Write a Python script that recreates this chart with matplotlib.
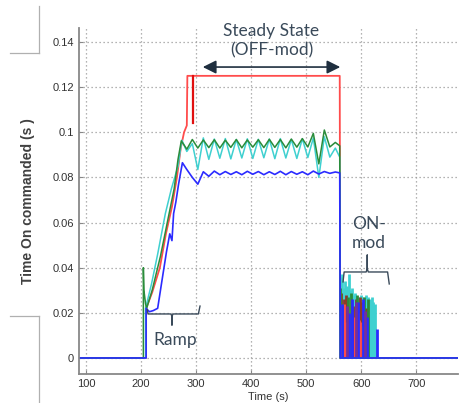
import numpy as np
import matplotlib
matplotlib.use("Agg")
import matplotlib.pyplot as plt
from matplotlib.lines import Line2D

plt.rcParams['font.family'] = ['Liberation Sans', 'DejaVu Sans']

# ---- data (time in s, value in s) ----
t_ss = np.arange(283, 560, 10)   # steady state sample times

red_t = [0, 209, 209, 220, 234, 245, 256, 265, 272, 278, 283, 284, 561, 562, 800]
red_v = [0, 0, 0.022, 0.029, 0.040, 0.055, 0.067, 0.080, 0.093, 0.100, 0.103, 0.125, 0.125, 0, 0]

red2_t = [294, 294]
red2_v = [0.104, 0.125]

green_ramp_t = [0, 204, 204, 205, 208, 210, 220, 235, 250, 260, 267, 273]
green_ramp_v = [0, 0, 0.040, 0.030, 0.024, 0.022, 0.030, 0.045, 0.063, 0.075, 0.088, 0.0962]
green_ss = [0.0925, 0.0968, 0.0930, 0.0966, 0.0932, 0.0967, 0.0930, 0.0965, 0.0933, 0.0968,
            0.0931, 0.0966, 0.0934, 0.0967, 0.0932, 0.0969, 0.0933, 0.0968, 0.0931, 0.0970,
            0.0934, 0.0972, 0.0935, 0.0995, 0.0860, 0.1010, 0.0935, 0.0955]
green_end_t = [561, 562, 800]
green_end_v = [0.094, 0, 0]

cyan_ramp_t = [0, 208, 208, 219, 230, 244, 255, 267, 274]
cyan_ramp_v = [0, 0, 0.022, 0.033, 0.046, 0.064, 0.075, 0.085, 0.0965]
cyan_ss = [0.0915, 0.0950, 0.0835, 0.0975, 0.0880, 0.0970, 0.0885, 0.0972, 0.0882, 0.0968,
           0.0886, 0.0971, 0.0884, 0.0969, 0.0887, 0.0970, 0.0883, 0.0972, 0.0886, 0.0968,
           0.0884, 0.0971, 0.0888, 0.0975, 0.0800, 0.0980, 0.0890, 0.0930]
cyan_end_t = [561, 562, 800]
cyan_end_v = [0.089, 0, 0]

blue_ramp_t = [0, 209, 209, 215, 222, 230, 237, 246, 252, 256, 259, 263, 268, 275]
blue_ramp_v = [0, 0, 0.022, 0.0205, 0.021, 0.022, 0.033, 0.047, 0.055, 0.052, 0.064, 0.069, 0.077, 0.0865]
blue_ss = [0.0835, 0.0800, 0.0770, 0.0825, 0.0805, 0.0828, 0.0812, 0.0826, 0.0813, 0.0825,
           0.0812, 0.0827, 0.0814, 0.0826, 0.0812, 0.0825, 0.0813, 0.0827, 0.0812, 0.0826,
           0.0814, 0.0825, 0.0812, 0.0828, 0.0815, 0.0826, 0.0818, 0.0824]
blue_end_t = [561, 562, 800]
blue_end_v = [0.082, 0, 0]

# ON-mod pulses
on_pulses = {
    'cyan':   ([562, 564, 566, 568, 570, 572, 574, 576, 578, 580, 583, 586, 589, 596, 599,
                602, 604, 606, 608, 610, 612, 614, 616, 618, 620, 622, 624, 626],
               [0.036, 0.033, 0.037, 0.031, 0.034, 0.030, 0.032, 0.029, 0.037, 0.030, 0.031,
                0.028, 0.029, 0.027, 0.028, 0.026, 0.027, 0.025, 0.028, 0.026, 0.027, 0.025,
                0.026, 0.024, 0.027, 0.025, 0.023, 0.024]),
    'pink':   ([563, 567, 571, 579, 582, 587, 591, 595, 600],
               [0.025, 0.022, 0.024, 0.026, 0.024, 0.021, 0.023, 0.019, 0.021]),
    'brown':  ([564, 568, 572, 575, 585, 590, 597, 601, 609],
               [0.029, 0.026, 0.028, 0.024, 0.023, 0.026, 0.027, 0.025, 0.022]),
    'red':    ([566, 569, 573, 588, 592, 594, 596, 598, 603, 606],
               [0.020, 0.024, 0.016, 0.018, 0.016, 0.020, 0.017, 0.016, 0.014, 0.015]),
    'green':  ([562, 565, 576, 581, 593, 605, 613],
               [0.031, 0.024, 0.027, 0.029, 0.028, 0.027, 0.026]),
    'blue':   ([565, 577, 584, 594, 604, 611, 628],
               [0.024, 0.020, 0.026, 0.025, 0.026, 0.018, 0.013]),
    'purple': ([574, 590, 607],
               [0.023, 0.025, 0.021]),
}

x_ticks = [100, 200, 300, 400, 500, 600, 700]
y_ticks = [0, 0.02, 0.04, 0.06, 0.08, 0.1, 0.12, 0.14]
y_ticklabels = ['0', '0.02', '0.04', '0.06', '0.08', '0.1', '0.12', '0.14']

colors = {'red': '#ff4c4c', 'red2': '#e01010', 'green': '#2a8c3a', 'cyan': '#3fd0d0',
          'blue': '#2b2bff', 'pink': '#ff9090', 'brown': '#8b3a2a', 'purple': '#7030a0'}

fig = plt.figure(figsize=(4.59, 4.03), dpi=100)
ax = fig.add_axes([79/459, 1-374/403, (458-79)/459, (374-28)/403])

# ON-mod pulses first (behind)
for name in ['cyan', 'pink', 'brown', 'red', 'green', 'blue', 'purple']:
    pt, pv = on_pulses[name]
    ax.vlines(pt, 0, pv, color=colors[name], lw=2.0)

ax.plot(red_t, red_v, color=colors['red'], lw=1.3)
ax.plot(red2_t, red2_v, color=colors['red2'], lw=1.6)
ax.plot(cyan_ramp_t + list(t_ss) + cyan_end_t, cyan_ramp_v + cyan_ss + cyan_end_v,
        color=colors['cyan'], lw=1.1)
ax.plot(green_ramp_t + list(t_ss) + green_end_t, green_ramp_v + green_ss + green_end_v,
        color=colors['green'], lw=1.1)
ax.plot(blue_ramp_t + list(t_ss) + blue_end_t, blue_ramp_v + blue_ss + blue_end_v,
        color=colors['blue'], lw=1.2)

ax.set_xlim(87, 776)
ax.set_ylim(-0.0071, 0.1462)
ax.set_xticks(x_ticks)
ax.set_yticks(y_ticks)
ax.set_yticklabels(y_ticklabels)
ax.grid(True, linestyle=(0, (1, 2.2)), color='#9a9a9a', lw=0.9)
ax.tick_params(direction='in', length=3, color='#888888', labelcolor='#333333', labelsize=8)
for s in ['top', 'right']:
    ax.spines[s].set_visible(False)
for s in ['left', 'bottom']:
    ax.spines[s].set_color('#888888')
    ax.spines[s].set_linewidth(1.3)

fig.text(28/459, 1-201/403, 'Time On commanded (s )', rotation=90, ha='center', va='center',
         fontsize=10, fontweight='bold', color='#404040')
fig.text(268/459, 1-397/403, 'Time (s)', ha='center', va='center', fontsize=8, color='#333333')

# annotations
note = '#1f2f3f'
afont = dict(family=['Lato', 'DejaVu Sans'], fontsize=12.5, color='#3a4a5a')
ax.text(437, 0.1405, 'Steady State\n(OFF-mod)', ha='center', va='center', linespacing=1.2,
        clip_on=False, **afont)
ax.annotate('', xy=(307, 0.1289), xytext=(567, 0.1289),
            arrowprops=dict(arrowstyle='<|-|>', color=note, lw=1.2, mutation_scale=20))
ax.text(262, 0.0080, 'Ramp', ha='center', va='center', **afont)
ax.text(583, 0.0552, 'ON-\nmod', ha='left', va='center', linespacing=1.2, **afont)

# braces
ax.plot([211, 212.5, 254, 256, 256, 256, 258, 304, 307],
        [0.0215, 0.0195, 0.0195, 0.0185, 0.0146, 0.0185, 0.0195, 0.0195, 0.023],
        color='#3a4a5a', lw=1.0)
ax.plot([567, 569, 609, 611, 611, 611, 613, 648, 651],
        [0.0337, 0.0381, 0.0381, 0.0395, 0.0456, 0.0395, 0.0381, 0.0381, 0.0328],
        color='#3a4a5a', lw=1.0)

# crop marks from the screenshot
mark = '#b0b0b0'
for xs, ys in [([39, 39], [6, 53]), ([10, 39], [53, 53]),
               ([10, 39], [316, 316]), ([39, 39], [316, 403])]:
    fig.add_artist(Line2D([x/459 for x in xs], [1 - y/403 for y in ys], color=mark, lw=0.9))

fig.savefig('out.png', dpi=100)
